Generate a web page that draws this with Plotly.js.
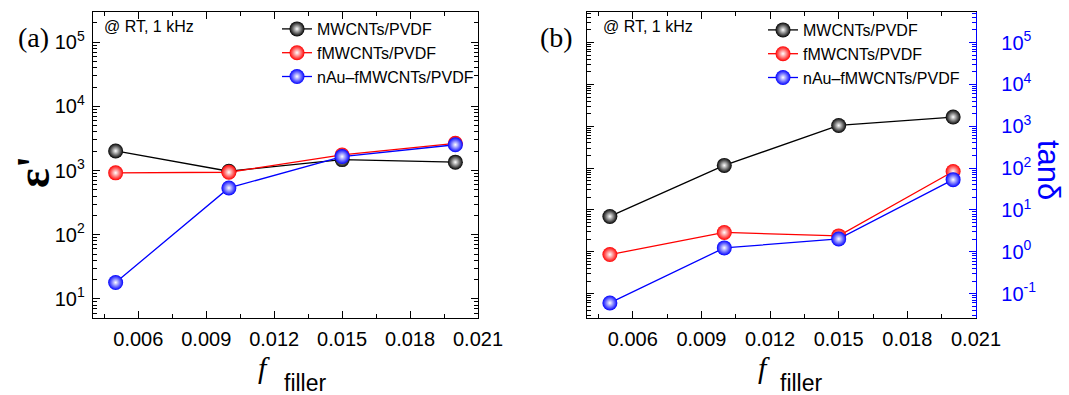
<!DOCTYPE html>
<html>
<head>
<meta charset="utf-8">
<script src="https://cdn.plot.ly/plotly-3.0.1.min.js"></script>
<style>html,body{margin:0;padding:0;background:#fff;}#chart{width:1069px;height:395px;}</style>
</head>
<body>
<div id="chart"></div>
<script>
// ---- data ----
const fFiller = [0.005, 0.010, 0.015, 0.020];
const seriesNames = ["MWCNTs/PVDF", "fMWCNTs/PVDF", "nAu\u2013fMWCNTs/PVDF"];
// (a) real permittivity eps'
const epsMWCNT  = [2020, 975, 1480, 1350];
const epsFMWCNT = [920, 940, 1750, 2650];
const epsNAu    = [18, 535, 1650, 2520];
// (b) tan delta
const tanMWCNT  = [7.0, 116, 1045, 1660];
const tanFMWCNT = [0.86, 2.9, 2.4, 83];
const tanNAu    = [0.06, 1.24, 2.03, 53];
// tick labels
const xTickVals = [0.006, 0.009, 0.012, 0.015, 0.018, 0.021];
const xTickText = ["0.006", "0.009", "0.012", "0.015", "0.018", "0.021"];
const epsTickVals = [1e1, 1e2, 1e3, 1e4, 1e5];
const epsTickText = ["10<sup>1</sup>", "10<sup>2</sup>", "10<sup>3</sup>", "10<sup>4</sup>", "10<sup>5</sup>"];
const tanTickVals = [1e-1, 1e0, 1e1, 1e2, 1e3, 1e4, 1e5];
const tanTickText = ["10<sup>-1</sup>", "10<sup>0</sup>", "10<sup>1</sup>", "10<sup>2</sup>", "10<sup>3</sup>", "10<sup>4</sup>", "10<sup>5</sup>"];
const colors = ["#000000", "#ff0000", "#0000ff"];

const epsData = [epsMWCNT, epsFMWCNT, epsNAu];
const tanData = [tanMWCNT, tanFMWCNT, tanNAu];

function minorLog(lo, hi) {
  const v = [];
  for (let e = lo; e <= hi; e++) for (let k = 2; k <= 9; k++) v.push(k * Math.pow(10, e));
  return v;
}

function mk(i, y, xa, ya, legend) {
  return {
    x: fFiller, y: y, xaxis: xa, yaxis: ya, legend: legend,
    name: seriesNames[i], type: "scatter", mode: "lines+markers",
    line: {color: colors[i], width: 1.3},
    marker: {color: colors[i], size: 15, line: {width: 0},
             gradient: {type: "radial", color: "#ffffff"}},
    hoverinfo: "x+y"
  };
}
const traces = [];
for (let i = 0; i < 3; i++) traces.push(mk(i, epsData[i], "x", "y", "legend"));
for (let i = 0; i < 3; i++) traces.push(mk(i, tanData[i], "x2", "y3", "legend2"));
// invisible companion so the left axis of panel (b) is drawn
traces.push({x: fFiller, y: tanMWCNT, xaxis: "x2", yaxis: "y2", mode: "markers",
  marker: {opacity: 0}, showlegend: false, hoverinfo: "skip"});

const tickFont = {family: "Arial, Liberation Sans, sans-serif", size: 20, color: "#000"};
const xbase = {
  range: [0.004, 0.021], tickmode: "array", tickvals: xTickVals, ticktext: xTickText,
  ticks: "inside", ticklen: 7, tickwidth: 1, tickcolor: "#000",
  minor: {ticks: "inside", ticklen: 4, tickwidth: 1, tickcolor: "#000", dtick: 0.0015, tick0: 0.0045},
  showline: true, linecolor: "#000", linewidth: 1.3, mirror: "ticks",
  showgrid: false, zeroline: false, tickfont: tickFont, fixedrange: true, ticklabelstandoff: 3
};
const ylog = {
  type: "log", tickmode: "array", ticks: "inside", ticklen: 7, tickwidth: 1, tickcolor: "#000",
  showline: true, linecolor: "#000", linewidth: 1.3,
  showgrid: false, zeroline: false, tickfont: tickFont, fixedrange: true
};

const yDom = [1 - 317.5 / 395, 1 - 12 / 395];
const ann = (text, px, py, font, extra) => Object.assign({
  text: text, x: px / 1069, y: 1 - py / 395, xref: "paper", yref: "paper",
  showarrow: false, xanchor: "center", yanchor: "middle", font: font}, extra || {});
const serif = (s) => ({family: "Liberation Serif, Times New Roman, serif", size: s, color: "#000"});
const sans = (s, c) => ({family: "Arial, Liberation Sans, sans-serif", size: s, color: c || "#000"});

const layout = {
  width: 1069, height: 395,
  margin: {l: 0, r: 0, t: 0, b: 0},
  paper_bgcolor: "#fff", plot_bgcolor: "#fff",
  showlegend: true,
  xaxis: Object.assign({}, xbase, {domain: [93 / 1069, 478 / 1069], anchor: "y"}),
  yaxis: Object.assign({}, ylog, {domain: yDom, anchor: "x", range: [0.71, 5.47], mirror: "ticks",
    tickvals: epsTickVals, ticktext: epsTickText, ticklabelstandoff: 3,
    minor: {ticks: "inside", ticklen: 4, tickwidth: 1, tickcolor: "#000", tickmode: "array", tickvals: minorLog(0, 5)}}),
  xaxis2: Object.assign({}, xbase, {domain: [587 / 1069, 976 / 1069], anchor: "y2"}),
  yaxis2: Object.assign({}, ylog, {domain: yDom, anchor: "x2", range: [-1.57, 5.73], showticklabels: false,
    tickvals: tanTickVals,
    minor: {ticks: "inside", ticklen: 4, tickwidth: 1, tickcolor: "#000", tickmode: "array", tickvals: minorLog(-2, 5)}}),
  yaxis3: Object.assign({}, ylog, {overlaying: "y2", anchor: "x2", side: "right", range: [-1.57, 5.73],
    tickvals: tanTickVals, ticktext: tanTickText, ticklabelstandoff: 20,
    linecolor: "#0000ff", tickcolor: "#0000ff",
    minor: {ticks: "inside", ticklen: 4, tickwidth: 1, tickcolor: "#0000ff", tickmode: "array", tickvals: minorLog(-2, 5)},
    tickfont: sans(20, "#0000ff")}),
  legend: {x: 277 / 1069, y: 1 - 12 / 395, xanchor: "left", yanchor: "top",
    bgcolor: "rgba(0,0,0,0)", borderwidth: 0, tracegroupgap: 0, font: sans(16)},
  legend2: {x: 763 / 1069, y: 1 - 13 / 395, xanchor: "left", yanchor: "top",
    bgcolor: "rgba(0,0,0,0)", borderwidth: 0, tracegroupgap: 0, font: sans(16)},
  annotations: [
    ann("(a)", 33, 38, serif(28)),
    ann("(b)", 556, 38, serif(28)),
    ann("@ RT, 1 kHz", 102, 26, sans(16), {xanchor: "left"}),
    ann("@ RT, 1 kHz", 601, 26, sans(16), {xanchor: "left"}),
    ann("<b>\u03b5'</b>", 33, 172, serif(46), {textangle: -90}),
    ann("tan\u03b4", 1049, 170, sans(31, "#0000ff"), {textangle: 90}),
    ann("<i>f</i>", 264, 367, serif(30)),
    ann("filler", 305, 383, sans(23)),
    ann("<i>f</i>", 764, 367, serif(30)),
    ann("filler", 801, 383, sans(23))
  ]
};

Plotly.newPlot("chart", traces, layout, {displayModeBar: false, staticPlot: true});
</script>
</body>
</html>
